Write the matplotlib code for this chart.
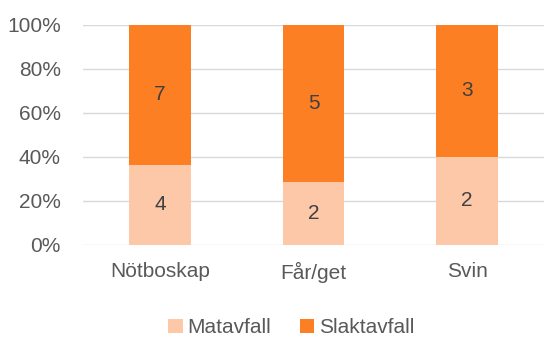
import matplotlib

matplotlib.use("Agg")
import matplotlib.pyplot as plt
import numpy as np
from matplotlib.ticker import PercentFormatter

categories = ["Nötboskap", "Får/get", "Svin"]
matavfall = [4, 2, 2]
slaktavfall = [7, 5, 3]

light = "#FDC8A8"
dark = "#FD7F24"
text_color = "#595959"

plt.rcParams["font.family"] = ["Liberation Sans", "DejaVu Sans"]

mat = np.array(matavfall, dtype=float)
slakt = np.array(slaktavfall, dtype=float)
total = mat + slakt
mat_share = mat / total * 100
slakt_share = slakt / total * 100

fig = plt.figure(figsize=(5.44, 3.38), dpi=100)
ax = fig.add_axes([83 / 544, 93 / 338, 461 / 544, 220 / 338])

x = np.arange(len(categories))
width = 0.4
bars_mat = ax.bar(x, mat_share, width, color=light, label="Matavfall", zorder=3)
bars_slakt = ax.bar(x, slakt_share, width, bottom=mat_share, color=dark,
                    label="Slaktavfall", zorder=3)

# segment labels show the raw counts, bars show the share
for bars, values in ((bars_mat, matavfall), (bars_slakt, slaktavfall)):
    for bar, value in zip(bars, values):
        ax.text(bar.get_x() + bar.get_width() / 2, bar.get_y() + bar.get_height() / 2,
                f"{value}", ha="center", va="center", fontsize=15, color="#404040", zorder=4)

ax.set_xlim(-0.5, len(categories) - 0.5)
ax.set_ylim(0, 100)
ax.set_yticks(range(0, 101, 20))
ax.yaxis.set_major_formatter(PercentFormatter(decimals=0))
ax.grid(axis="y", color="#D9D9D9", linewidth=1, zorder=0)
for spine in ax.spines.values():
    spine.set_visible(False)
ax.tick_params(axis="y", length=0, labelsize=15, colors=text_color, pad=16)
ax.tick_params(axis="x", length=0, labelsize=15, colors=text_color, pad=12)
ax.set_xticks(x)
ax.set_xticklabels(categories)

fig.legend(handles=[bars_mat, bars_slakt], loc="center", bbox_to_anchor=(0.535, 0.03),
           ncol=2, frameon=False, fontsize=15, labelcolor=text_color,
           handlelength=0.7, handleheight=0.7, handletextpad=0.2, columnspacing=1.4)

fig.savefig("out.png", dpi=100)
plt.close(fig)
